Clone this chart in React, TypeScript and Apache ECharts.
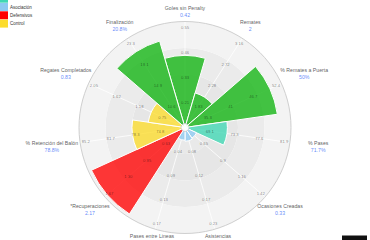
import React, { useEffect, useRef } from "react";
import * as echarts from "echarts";

const categories = [
  "Goles sin Penalty",
  "Remates",
  "% Remates a Puerta",
  "% Pases",
  "Ocasiones Creadas",
  "Asistencias",
  "Pases entre Lineas",
  "*Recuperaciones",
  "% Retención del Balón",
  "Regates Completados",
  "Finalización",
];
const displayValues = ["0.42", "2", "50%", "71.7%", "0.33", "", "", "2.17", "78.8%", "0.83", "20.8%"];
const percentiles = [68, 34, 88, 40, 12, 13, 12, 97, 50, 35, 85];
const groups = ["Ataque", "Ataque", "Ataque", "Pase", "Asociación", "Asociación", "Asociación", "Defensivos", "Control", "Control", "Ataque"];
const tickLabels = [
  ["0.21", "0.33", "0.46", "0.55"],
  ["1.83", "2.28", "2.72", "3.16"],
  ["35.3", "41", "46.7", "52.4"],
  ["69.1", "73.3", "77.6", "81.9"],
  ["0.65", "0.9", "1.16", "1.42"],
  ["0.08", "0.12", "0.17", "0.23"],
  ["0.04", "0.09", "0.13", "0.17"],
  ["0.63", "0.95", "1.30", "1.67"],
  ["74.8", "78.3", "81.7", "85.2"],
  ["0.75", "1.18", "1.62", "2.05"],
  ["10.6", "14.9", "19.1", "23.3"],
];
const groupNames = ["Ataque", "Pase", "Asociación", "Defensivos", "Control"];
const groupColors = ["#10b410", "#3fd7b3", "#8cc9f1", "#ff0000", "#fcdc2c"];
const legendNames = ["Pase", "Asociación", "Defensivos", "Control"];

const R = 106;
const CX = 185;
const CY = 127.5;

function hexToRgba(hex: string, a: number) {
  const h = hex.replace("#", "");
  const r = parseInt(h.slice(0, 2), 16);
  const g = parseInt(h.slice(2, 4), 16);
  const b = parseInt(h.slice(4, 6), 16);
  return `rgba(${r},${g},${b},${a})`;
}

export default function App() {
  const ref = useRef<HTMLDivElement>(null);
  useEffect(() => {
    if (!ref.current) return;
    const chart = echarts.init(ref.current, undefined, { renderer: "svg" });
    const n = categories.length;
    const colorOf = (g: string) => groupColors[groupNames.indexOf(g)];

    const rx = 135;
    const ry = 116;
    const labelData = categories.map((c, i) => {
      const t = (i * 2 * Math.PI) / n;
      const rpx = 1 / Math.sqrt(Math.pow(Math.sin(t) / rx, 2) + Math.pow(Math.cos(t) / ry, 2));
      return { value: [(rpx / R) * 100, i], name: c, disp: displayValues[i] };
    });

    const tickData: any[] = [];
    tickLabels.forEach((arr, i) => {
      arr.forEach((t, k) => {
        tickData.push({ value: [25 * (k + 1) * 0.945, i], txt: t });
      });
    });

    const legendGraphics: any[] = [];
    legendNames.forEach((nm, i) => {
      const y = -5.3 + 8.3 * i;
      legendGraphics.push({
        type: "rect",
        left: 0,
        top: y,
        shape: { width: 8, height: 8 },
        style: { fill: colorOf(nm) },
      });
      legendGraphics.push({
        type: "text",
        x: 10,
        y: y + 4,
        style: { text: nm, fontSize: 4.5, fill: "#333", verticalAlign: "middle", fontFamily: "Liberation Sans, Arial, sans-serif" },
      });
    });

    const option: any = {
      animation: false,
      textStyle: { fontFamily: "Liberation Sans, Arial, sans-serif" },
      polar: { center: [CX, CY], radius: [0, R] },
      angleAxis: {
        type: "category",
        data: categories,
        startAngle: 90 + 360 / n / 2,
        clockwise: true,
        axisLine: { show: true, lineStyle: { color: "#cfcfcf", width: 1 } },
        axisTick: { show: false, alignWithLabel: true },
        axisLabel: { show: false },
        splitLine: { show: true, lineStyle: { color: "#ffffff", width: 0.8 } },
      },
      radiusAxis: {
        min: 0,
        max: 100,
        interval: 25,
        axisLine: { show: false },
        axisTick: { show: false },
        axisLabel: { show: false },
        splitLine: { show: true, lineStyle: { color: "#ffffff", width: 1 } },
        splitArea: { show: true, areaStyle: { color: ["#e9e9e9", "#e6e6e6", "#ebebeb", "#f3f3f3"] } },
      },
      graphic: [
        ...legendGraphics,
        { type: "rect", left: 342, top: 235.5, shape: { width: 25, height: 5 }, style: { fill: "#111" } },
      ],
      series: [
        {
          type: "bar",
          coordinateSystem: "polar",
          barCategoryGap: "0%",
          data: percentiles.map((v, i) => ({
            value: v,
            itemStyle: { color: hexToRgba(colorOf(groups[i]), 0.78) },
          })),
          itemStyle: { borderColor: "#ffffff", borderWidth: 1 },
          z: 2,
        },
        {
          type: "scatter",
          coordinateSystem: "polar",
          clip: false,
          symbolSize: 0.1,
          itemStyle: { color: "transparent" },
          data: tickData,
          z: 4,
          label: {
            show: true,
            position: "inside",
            fontSize: 4.2,
            color: "rgba(0,0,0,0.6)",
            formatter: (p: any) => p.data.txt,
          },
        },
        {
          type: "scatter",
          coordinateSystem: "polar",
          clip: false,
          symbolSize: 0.1,
          itemStyle: { color: "transparent" },
          data: labelData,
          z: 4,
          label: {
            show: true,
            position: "inside",
            formatter: (p: any) =>
              p.data.disp ? `{n|${p.data.name}}\n{v|${p.data.disp}}` : `{n|${p.data.name}}\n{v| }`,
            rich: {
              n: { fontSize: 5.2, color: "#333", lineHeight: 7, align: "center" },
              v: { fontSize: 5.2, color: "#3d6ef7", lineHeight: 7, align: "center" },
            },
          },
        },
        {
          type: "scatter",
          coordinateSystem: "polar",
          symbolSize: 8,
          data: [[0, 0]],
          itemStyle: { color: "#ffffff", borderColor: "#bdbdbd", borderWidth: 0.8 },
          z: 5,
        },
      ],
    };
    chart.setOption(option);
    return () => chart.dispose();
  }, []);
  return (
    <div
      ref={ref}
      style={{ position: "absolute", left: 0, top: 0, width: 370, height: 240, background: "#ffffff" }}
    />
  );
}
